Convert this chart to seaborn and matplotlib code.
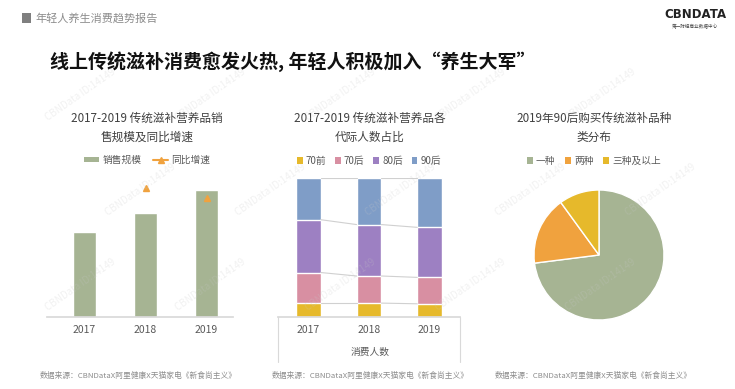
import pandas as pd
import matplotlib.pyplot as plt
import seaborn as sb
from matplotlib.patches import Patch, Rectangle
from matplotlib.lines import Line2D

sb.set_theme(style="white")
plt.rcParams['font.family'] = ['Noto Sans CJK SC', 'DejaVu Sans']

# data
years = ["2017", "2018", "2019"]
sales = [85, 104, 127]              # 销售规模 (relative, no axis shown)
growth = [None, 25.8, 23.8]         # 同比增速 (%)
gens = ["70前", "70后", "80后", "90后"]
share_70q = [10.0, 10.0, 9.5]
share_70h = [22.0, 19.5, 19.0]
share_80h = [38.0, 37.0, 36.0]
share_90h = [30.0, 33.5, 35.5]
pie_labels = ["一种", "两种", "三种及以上"]
pie_vals = [73, 17, 10]
source = "数据来源：CBNDataX阿里健康X天猫家电《新食尚主义》"

green = "#A6B493"
orange = "#F0A23E"
yellow = "#E6B92B"
pink = "#D88FA2"
purple = "#9D80C2"
blue = "#7F9DC7"
W, H = 735, 389


def fx(px):
    return px / W


def fy(py):
    return 1 - py / H


def rect(l, t, r, b):
    return [fx(l), fy(b), (r - l) / W, (b - t) / H]


fig = plt.figure(figsize=(7.35, 3.89), dpi=100)
fig.patch.set_facecolor("white")

# header
fig.patches.append(Rectangle((fx(22), fy(23)), 9 / W, 10 / H, transform=fig.transFigure,
                             facecolor="#7f7f7f", edgecolor="none"))
fig.text(fx(35), fy(18), "年轻人养生消费趋势报告", fontsize=8, color="#8c8c8c", va="center")
fig.text(fx(695), fy(15), "CBNDATA", fontsize=8.5, fontweight="bold", color="#222222",
         ha="center", va="center", family=["DejaVu Sans"])
fig.text(fx(695), fy(27), "第一财经商业数据中心", fontsize=3.3, color="#444444", ha="center", va="center")
fig.text(fx(50), fy(62), "线上传统滋补消费愈发火热, 年轻人积极加入“养生大军”", fontsize=13.7,
         fontweight="bold", color="#111111", va="center")

title_kw = dict(fontsize=8.4, color="#404040", ha="center", va="center", linespacing=1.6)
fig.text(fx(147), fy(128), "2017-2019 传统滋补营养品销\n售规模及同比增速", **title_kw)
fig.text(fx(370), fy(128), "2017-2019 传统滋补营养品各\n代际人数占比", **title_kw)
fig.text(fx(594), fy(128), "2019年90后购买传统滋补品种\n类分布", **title_kw)

# chart 1
ax1 = fig.add_axes(rect(47, 180, 233, 317))
df1 = pd.DataFrame({"year": years, "sales": sales})
sb.barplot(data=df1, x="year", y="sales", color=green, width=0.37, saturation=1, ax=ax1)
ax1.set_xlim(-0.615, 2.434)
ax1.set_ylim(0, 137)
ax2 = ax1.twinx()
df2 = pd.DataFrame({"x": [0, 1, 2], "g": growth})
ax2.plot(df2["x"], df2["g"], linestyle="none", marker="^", color=orange, markersize=4.5)
ax2.set_ylim(0, 27.4)
ax2.set_axis_off()
ax1.set_xlabel("")
ax1.set_ylabel("")
ax1.set_yticks([])
for s in ["top", "left", "right"]:
    ax1.spines[s].set_visible(False)
ax1.spines["bottom"].set_color("#d9d9d9")
ax1.tick_params(axis="x", length=0, pad=6, labelsize=7.5, labelcolor="#595959")
h1 = [Patch(facecolor=green, edgecolor="none"),
      Line2D([0], [0], color=orange, marker="^", markersize=4, lw=1.5)]
fig.legend(h1, ["销售规模", "同比增速"], loc="center", bbox_to_anchor=(fx(147), fy(160)),
           ncol=2, frameon=False, fontsize=7, labelcolor="#595959", handlelength=1.6,
           handleheight=0.5, columnspacing=1.2, handletextpad=0.3)

# chart 2
ax3 = fig.add_axes(rect(278, 178, 460, 317))
df3 = pd.DataFrame({"year": years, "70前": share_70q, "70后": share_70h,
                    "80后": share_80h, "90后": share_90h})
cols = [yellow, pink, purple, blue]
cum = df3[gens].cumsum(axis=1)
for g, c in reversed(list(zip(gens, cols))):
    sb.barplot(x=df3["year"], y=cum[g], color=c, width=0.41, saturation=1, ax=ax3)
bw = 0.41
for g in gens:
    lv = cum[g].tolist()
    for i in range(len(years) - 1):
        ax3.plot([i + bw / 2, i + 1 - bw / 2], [lv[i], lv[i + 1]], color="#d0d0d0", lw=0.8)
ax3.set_xlim(-0.5, 2.5)
ax3.set_ylim(0, 100)
ax3.set_xlabel("")
ax3.set_ylabel("")
ax3.set_yticks([])
for s in ["top", "left", "right"]:
    ax3.spines[s].set_visible(False)
ax3.spines["bottom"].set_color("#d9d9d9")
ax3.tick_params(axis="x", length=0, pad=6, labelsize=7.5, labelcolor="#595959")
for xx in [278, 460]:
    fig.add_artist(Line2D([fx(xx), fx(xx)], [fy(317), fy(362)], color="#d9d9d9", lw=0.8))
fig.text(fx(370), fy(352), "消费人数", fontsize=7, color="#595959", ha="center", va="center")
h2 = [Patch(facecolor=c, edgecolor="none") for c in cols]
fig.legend(h2, gens, loc="center", bbox_to_anchor=(fx(369), fy(161)), ncol=4, frameon=False,
           fontsize=7, labelcolor="#595959", handlelength=0.6, handleheight=0.6,
           columnspacing=0.9, handletextpad=0.3)

# chart 3
ax4 = fig.add_axes(rect(534, 190, 664, 320))
ax4.pie(pie_vals, colors=[green, orange, yellow], startangle=90, counterclock=False,
        wedgeprops=dict(edgecolor="white", linewidth=1))
ax4.set_xlim(-1.0, 1.0)
ax4.set_ylim(-1.0, 1.0)
h3 = [Patch(facecolor=c, edgecolor="none") for c in [green, orange, yellow]]
fig.legend(h3, pie_labels, loc="center", bbox_to_anchor=(fx(594), fy(161)), ncol=3, frameon=False,
           fontsize=7, labelcolor="#595959", handlelength=0.6, handleheight=0.6,
           columnspacing=1.0, handletextpad=0.3)

# sources
for xx in [40, 272, 495]:
    fig.text(fx(xx), fy(376), source, fontsize=5.6, color="#8c8c8c", va="center")

# watermarks (faint, on top like the original)
for row, yy in enumerate(range(95, 380, 95)):
    for xx in range(80 + (row % 2) * 60, 700, 130):
        fig.text(fx(xx), fy(yy), "CBNData ID:14149", rotation=35, fontsize=7,
                 color="#c8c8c8", alpha=0.25, ha="center", va="center")

plt.savefig("out.png", dpi=100)
